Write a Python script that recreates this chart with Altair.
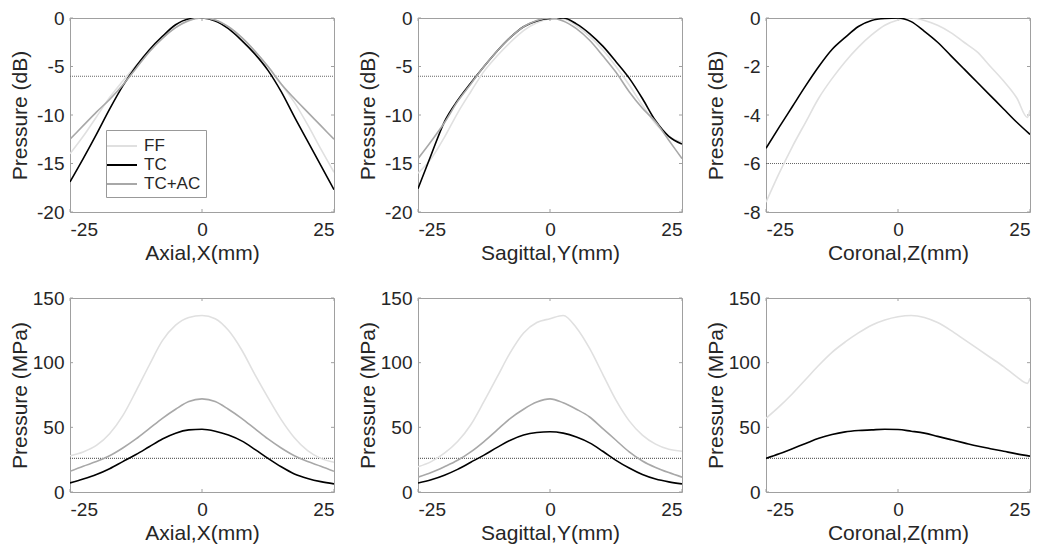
import altair as alt
import pandas as pd

# ---------------- data ----------------
X_MM = [-25, -22.5, -20, -17.5, -15, -12.5, -10, -7.5, -5, -2.5, 0,
        2.5, 5, 7.5, 10, 12.5, 15, 17.5, 20, 22.5, 25]
X_MM_COR_FF = [-25, -22.5, -20, -17.5, -15, -12.5, -10, -7.5, -5, -2.5, 0,
               2.5, 5, 7.5, 10, 12.5, 15, 17.5, 20, 22.5, 24.5, 25]

SERIES = ["FF", "TC", "TC+AC"]
COLORS = ["#e0e0e0", "#000000", "#a8a8a8"]

# Axial, dB
AX_DB_FF = [-14.0, -12.2, -10.2, -8.2, -6.5, -4.9, -3.4, -2.1, -1.0, -0.3, 0,
            -0.2, -0.9, -2.0, -3.4, -5.0, -6.8, -8.7, -11.0, -13.5, -15.9]
AX_DB_TC = [-16.9, -14.5, -12.0, -9.4, -7.0, -5.0, -3.3, -1.9, -0.7, -0.1, 0,
            -0.3, -1.1, -2.3, -3.7, -5.4, -7.6, -10.2, -12.7, -15.2, -17.7]
AX_DB_TCAC = [-12.5, -11.1, -9.7, -8.4, -6.9, -5.2, -3.5, -2.1, -1.0, -0.25, 0,
              -0.2, -0.9, -2.0, -3.4, -5.0, -6.8, -8.3, -9.7, -11.1, -12.5]

# Sagittal, dB
SG_DB_FF = [-16.0, -14.5, -12.3, -9.8, -7.6, -5.5, -3.9, -2.5, -1.3, -0.5, -0.1,
            -0.1, -0.8, -1.9, -3.3, -5.0, -6.9, -9.0, -10.9, -12.2, -12.8]
SG_DB_TC = [-17.6, -14.1, -10.7, -8.5, -6.7, -5.0, -3.4, -2.0, -0.9, -0.3, -0.05,
            0, -0.6, -1.6, -2.9, -4.5, -6.2, -8.3, -10.6, -12.2, -13.0]
SG_DB_TCAC = [-14.5, -12.7, -10.8, -8.6, -6.8, -5.0, -3.4, -2.0, -0.9, -0.25, 0,
              -0.3, -1.1, -2.3, -3.9, -5.6, -7.6, -9.3, -10.7, -12.6, -14.5]

# Coronal, dB
CR_DB_FF = [-7.6, -6.4, -5.3, -4.3, -3.3, -2.5, -1.8, -1.2, -0.7, -0.3, -0.08,
            0, -0.1, -0.3, -0.6, -1.0, -1.4, -2.0, -2.6, -3.3, -4.1, -3.8]
CR_DB_TC = [-5.37, -4.5, -3.65, -2.8, -2.0, -1.3, -0.8, -0.35, -0.1, -0.02, 0,
            -0.15, -0.55, -1.0, -1.55, -2.1, -2.65, -3.2, -3.75, -4.3, -4.8]

# Axial, MPa
AX_MP_FF = [28, 31, 36, 45, 59, 78, 98, 117, 129, 135, 136.5,
            134, 125, 110, 91, 73, 56, 42, 32, 26, 23]
AX_MP_TC = [7, 10, 13.5, 18, 23.5, 29, 35, 41, 45.5, 48, 48.5,
            47, 44, 39.5, 33, 26, 19.5, 14, 10.5, 8, 6.3]
AX_MP_TCAC = [16, 20, 23.5, 28, 34, 41, 49, 57, 64, 70, 72,
              70, 64, 57, 49, 41, 34, 28, 23.5, 20, 16]

# Sagittal, MPa
SG_MP_FF = [19.5, 23.5, 30, 39, 52, 70, 89, 108, 123, 131, 134,
            136.5, 127, 111, 91, 71, 55, 44, 37, 33, 31.5]
SG_MP_TC = [7, 9.5, 13, 17.5, 23, 28.5, 34.5, 40, 44, 46, 46.6,
            45.5, 42.5, 38, 31.5, 24.5, 18.5, 13.5, 10, 7.8, 6.3]
SG_MP_TCAC = [11.5, 15, 19.5, 24.5, 31, 39, 48, 57, 64, 69.5, 72,
              69, 64, 58, 49, 40, 31, 24, 19, 15, 11.5]

# Coronal, MPa
CR_MP_FF = [57, 66, 76, 87, 98, 108, 116, 123, 129, 133, 135.5,
            136.5, 135, 131, 125, 118, 111, 104, 97, 89, 84, 88]
CR_MP_TC = [26, 29.5, 33.5, 37.5, 41.5, 44.5, 46.5, 47.5, 48, 48.5, 48.3,
            47, 45.5, 43, 40.5, 38, 35.5, 33.5, 31.5, 29.5, 27.7]

DB_THRESHOLD = -6
MPA_THRESHOLD = 26

X_TICKS = [-25, 0, 25]
DB_TICKS = [-20, -15, -10, -5, 0]
DB_TICKS_COR = [-8, -6, -4, -2, 0]
MPA_TICKS = [0, 50, 100, 150]

# ---------------- styling ----------------
W, H = 264, 194
FRAME = "#a0a0a0"
TEXT = "#262626"
FONT = "Liberation Sans"
LABEL = "'' + datum.value"


def panel(curves, ydom, yticks, ytitle, xtitle, thr, legend=False):
    rows = []
    for name, xs, ys in curves:
        for xv, yv in zip(xs, ys):
            rows.append({"x": xv, "y": yv, "s": name})
    df = pd.DataFrame(rows)

    X = alt.X("x:Q", scale=alt.Scale(domain=[-25, 25], nice=False, zero=False),
              axis=alt.Axis(values=X_TICKS, title=xtitle, labelPadding=8,
                            titlePadding=3, labelExpr=LABEL))
    Y = alt.Y("y:Q", scale=alt.Scale(domain=ydom, nice=False, zero=False),
              axis=alt.Axis(values=yticks, title=ytitle, labelPadding=6,
                            minExtent=38, maxExtent=38, titlePadding=2,
                            labelExpr=LABEL))

    if legend:
        leg = alt.Legend(orient="none", legendX=36, legendY=112, title=None,
                         fillColor="white", strokeColor="#999999",
                         padding=5, labelFontSize=17, labelFont=FONT,
                         labelColor=TEXT, symbolType="M-1.5,0L1.5,0",
                         symbolSize=400, symbolStrokeWidth=2,
                         rowPadding=0, labelOffset=11)
    else:
        leg = None

    lines = alt.Chart(df).mark_line(strokeWidth=1.6, clip=True,
                                    interpolate="monotone").encode(
        x=X, y=Y,
        color=alt.Color("s:N", scale=alt.Scale(domain=SERIES, range=COLORS),
                        legend=leg, sort=SERIES),
    )

    thr_line = alt.Chart(pd.DataFrame({"y": [thr]})).mark_rule(
        color="#666666", strokeWidth=1.1, strokeDash=[1, 1]
    ).encode(y=Y, x=alt.value(0), x2=alt.value(W))

    xt = pd.DataFrame({"x": X_TICKS})
    yt = pd.DataFrame({"y": yticks})
    tb = alt.Chart(xt).mark_rule(color=FRAME, strokeWidth=1).encode(
        x=X, y=alt.value(H), y2=alt.value(H - 3))
    tt = alt.Chart(xt).mark_rule(color=FRAME, strokeWidth=1).encode(
        x=X, y=alt.value(0), y2=alt.value(3))
    tl = alt.Chart(yt).mark_rule(color=FRAME, strokeWidth=1).encode(
        y=Y, x=alt.value(0), x2=alt.value(3))
    tr = alt.Chart(yt).mark_rule(color=FRAME, strokeWidth=1).encode(
        y=Y, x=alt.value(W), x2=alt.value(W - 3))

    return alt.layer(tb, tt, tl, tr, thr_line, lines).properties(width=W, height=H)


p1 = panel([("FF", X_MM, AX_DB_FF), ("TC", X_MM, AX_DB_TC), ("TC+AC", X_MM, AX_DB_TCAC)],
           [-20, 0], DB_TICKS, "Pressure (dB)", "Axial,X(mm)", DB_THRESHOLD, legend=True)
p2 = panel([("FF", X_MM, SG_DB_FF), ("TC", X_MM, SG_DB_TC), ("TC+AC", X_MM, SG_DB_TCAC)],
           [-20, 0], DB_TICKS, "Pressure (dB)", "Sagittal,Y(mm)", DB_THRESHOLD)
p3 = panel([("FF", X_MM_COR_FF, CR_DB_FF), ("TC", X_MM, CR_DB_TC)],
           [-8, 0], DB_TICKS_COR, "Pressure (dB)", "Coronal,Z(mm)", DB_THRESHOLD)
p4 = panel([("FF", X_MM, AX_MP_FF), ("TC", X_MM, AX_MP_TC), ("TC+AC", X_MM, AX_MP_TCAC)],
           [0, 150], MPA_TICKS, "Pressure (MPa)", "Axial,X(mm)", MPA_THRESHOLD)
p5 = panel([("FF", X_MM, SG_MP_FF), ("TC", X_MM, SG_MP_TC), ("TC+AC", X_MM, SG_MP_TCAC)],
           [0, 150], MPA_TICKS, "Pressure (MPa)", "Sagittal,Y(mm)", MPA_THRESHOLD)
p6 = panel([("FF", X_MM_COR_FF, CR_MP_FF), ("TC", X_MM, CR_MP_TC)],
           [0, 150], MPA_TICKS, "Pressure (MPa)", "Coronal,Z(mm)", MPA_THRESHOLD)

chart = alt.concat(
    p1, p2, p3, p4, p5, p6, columns=3,
    spacing={"row": 86, "column": 84}, bounds="flush"
).resolve_scale(
    color="independent"
).properties(
    padding={"left": 0, "top": 0, "right": 0, "bottom": 0}
).configure(
    background="white"
).configure_view(
    stroke=FRAME, strokeWidth=1
).configure_axis(
    domain=False, ticks=False, grid=False,
    labelFont=FONT, labelFontSize=19, labelColor=TEXT,
    titleFont=FONT, titleFontSize=21, titleFontWeight="normal", titleColor=TEXT,
)

chart.save("out.html", embed_options={"renderer": "svg", "actions": False})
